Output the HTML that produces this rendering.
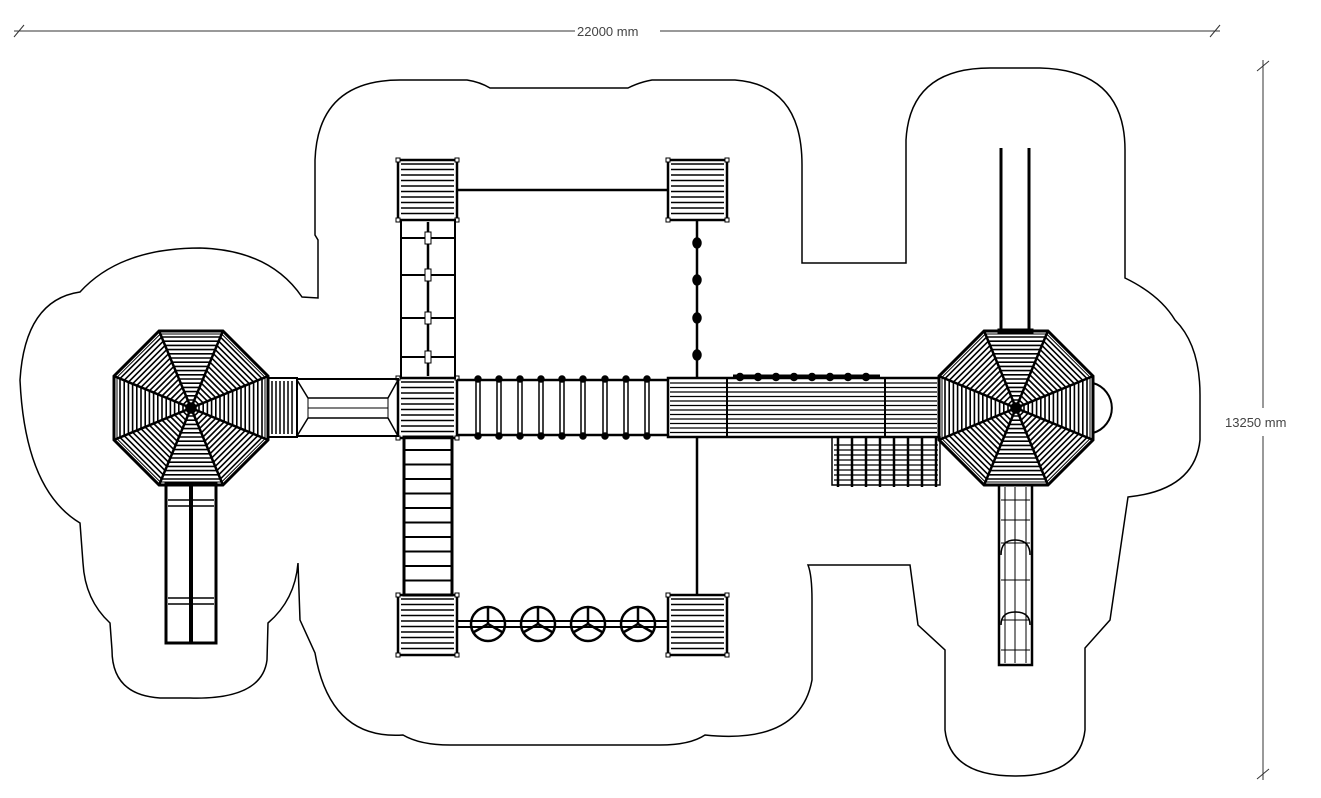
<!DOCTYPE html>
<html><head><meta charset="utf-8"><style>
html,body{margin:0;padding:0;background:#fff;}
svg{display:block;}
text{font-family:"Liberation Sans",sans-serif;font-size:13px;fill:#444;}
</style></head><body>
<svg id="s" width="1321" height="798" viewBox="0 0 1321 798" xmlns="http://www.w3.org/2000/svg">
<g fill="none" stroke="#000" stroke-width="1.5">
<path d="M318,298 L318,240 L315,235 L315,160 Q318,80 400,80 L467,80 Q480,82 490,88 L628,88 Q640,82 652,80 L735,80 Q802,85 802,165 L802,263 L906,263 L906,140 Q910,68 990,68 L1040,68 Q1125,70 1125,150 L1125,278 Q1160,295 1175,320 Q1200,345 1200,395 L1200,440 Q1195,490 1128,497 L1110,620 L1085,648 L1085,730 Q1080,776 1015,776 Q950,776 945,730 L945,650 L918,625 L910,565 L808,565 Q812,575 812,600 L812,680 Q800,745 705,735 Q690,745 660,745 L450,745 Q420,745 403,735 Q330,740 315,653 L300,620 L298,563 Q295,600 268,623 L267,660 Q262,700 190,698 L160,698 Q112,695 112,650 L110,623 Q85,600 83,563 L80,523 Q25,490 20,380 Q25,300 80,292 Q120,248 200,248 Q270,250 302,297 Z"/>
</g>
<g stroke="#333" stroke-width="1" fill="none">
<line x1="14" y1="31" x2="575" y2="31"/><line x1="660" y1="31" x2="1220" y2="31"/>
<line x1="14" y1="37" x2="24" y2="25"/><line x1="1210" y1="37" x2="1220" y2="25"/>
<line x1="1263" y1="60" x2="1263" y2="408"/><line x1="1263" y1="436" x2="1263" y2="780"/>
<line x1="1257" y1="71" x2="1269" y2="61"/><line x1="1257" y1="779" x2="1269" y2="769"/>
</g>
<text x="577" y="36">22000 mm</text>
<text x="1225" y="427">13250 mm</text>
<g id="g" fill="none" stroke="#000" stroke-width="1.5"></g>
</svg>
<script>
var g=document.getElementById('g'),NS='http://www.w3.org/2000/svg';
function el(t,a){var e=document.createElementNS(NS,t);for(var k in a)e.setAttribute(k,a[k]);g.appendChild(e);return e;}
function L(x1,y1,x2,y2,w){el('line',{x1:x1,y1:y1,x2:x2,y2:y2,'stroke-width':w||1.5});}
function R(x,y,w,h,sw,f){el('rect',{x:x,y:y,width:w,height:h,'stroke-width':sw||1.5,fill:f||'none'});}
function oct(cx,cy,ap){
 var pts=function(a){var r=a/Math.cos(Math.PI/8),s=[];for(var i=0;i<8;i++){var t=Math.PI/8+i*Math.PI/4;s.push((cx+r*Math.cos(t)).toFixed(1)+','+(cy+r*Math.sin(t)).toFixed(1));}return s.join(' ');};
 el('polygon',{points:pts(ap),'stroke-width':3});
 el('polygon',{points:pts(ap-3),'stroke-width':1});
 for(var a=ap-6;a>6;a-=4.2)el('polygon',{points:pts(a),'stroke-width':1.6});
 var r=ap/Math.cos(Math.PI/8);
 for(var i=0;i<8;i++){var t=Math.PI/8+i*Math.PI/4;L(cx,cy,cx+r*Math.cos(t),cy+r*Math.sin(t),2.5);}
 el('circle',{cx:cx,cy:cy,r:5,fill:'#000'});
}
function tower(x,y){R(x,y,59,60,2.5);for(var yy=y+4;yy<y+58;yy+=5.5)L(x+3,yy,x+56,yy,1.6);
 [[x,y],[x+59,y],[x,y+60],[x+59,y+60]].forEach(function(p){R(p[0]-2,p[1]-2,4,4,1,'#fff');});}
oct(191,408,77);oct(1016,408,77);
el('path',{d:'M1093,383 A26,26 0 0 1 1093,433','stroke-width':2});
tower(398,160);tower(668,160);tower(398,595);tower(668,595);tower(398,378);
L(457,190,668,190,2.5);
R(401,220,54,158,2);[238,275,318,357].forEach(function(y){L(401,y,455,y,2);});L(428,222,428,376,2.5);
[238,275,318,357].forEach(function(y){R(425,y-6,6,12,1,'#fff');});
R(404,437,48,158,3);for(var y=450;y<595;y+=14.5)L(404,y,452,y,2);
L(697,220,697,378,2.5);L(697,437,697,595,2.5);
[243,280,318,355].forEach(function(y){el('ellipse',{cx:697,cy:y,rx:4,ry:5,fill:'#000'});});
L(457,621,668,621,2);L(457,627,668,627,2);
[488,538,588,638].forEach(function(x){el('circle',{cx:x,cy:624,r:17,'stroke-width':2.5});
 L(x,607,x,624,2.5);L(x,624,x-14,632,2.5);L(x,624,x+14,632,2.5);});
L(457,380,668,380,2.5);L(457,435,668,435,2.5);
[478,499,520,541,562,583,605,626,647].forEach(function(x){R(x-2,380,4,55,1.5);el('circle',{cx:x,cy:379,r:3,fill:'#000'});el('circle',{cx:x,cy:436,r:3,fill:'#000'});});
R(268,378,29,59,2);for(var x=272;x<296;x+=4)L(x,381,x,434,1.5);
R(297,379,101,57,2);el('path',{d:'M297,380 L308,398 L388,398 L398,380 M297,436 L308,418 L388,418 L398,436',"stroke-width":1.5});L(308,408,388,408,1);L(308,398,308,418,1);L(388,398,388,418,1);
R(166,484,50,159,3);L(191,484,191,643,4);[500,506,598,604].forEach(function(y){L(168,y,214,y,1.5);});
R(668,378,271,59,2.5);L(727,378,727,437,2);L(885,378,885,437,2);
for(var y=383;y<435;y+=4.5)L(670,y,937,y,1.3);
for(var x=740;x<880;x+=18)el('circle',{cx:x,cy:377,r:3.5,fill:'#000'});
L(733,376,880,376,3);
R(832,437,108,48,1.5);for(var x=838;x<940;x+=14)L(x,437,x,487,2.5);for(var y=445;y<485;y+=5)L(834,y,938,y,1.3);
L(1001,148,1001,331,3);L(1029,148,1029,331,3);R(998,329,35,4,1,'#000');
R(999,485,33,180,2.5);L(1005,487,1005,663,1);L(1026,487,1026,663,1);L(1015,487,1015,663,1);
[500,520,543,580,620,650].forEach(function(y){L(1001,y,1030,y,1);});
el('path',{d:'M1001,555 Q1001,540 1015,540 Q1030,540 1030,555 M1001,625 Q1001,612 1015,612 Q1030,612 1030,625',"stroke-width":1.5});
</script>
</body></html>
